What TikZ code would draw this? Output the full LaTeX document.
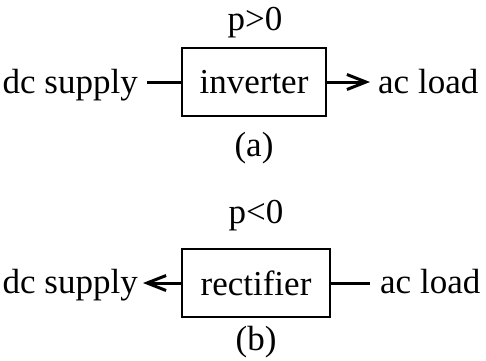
\documentclass[tikz,border=0pt]{standalone}
\usepackage{fontspec}
\setmainfont{Liberation Serif}
\usetikzlibrary{arrows.meta}
\begin{document}
\begin{tikzpicture}[x=1pt,y=-1pt,
  lbl/.style={inner sep=0pt,font=\fontsize{35}{42}\selectfont},
  blk/.style={draw,line width=2pt,minimum width=144pt,minimum height=68pt,inner sep=0pt,font=\fontsize{35}{42}\selectfont},
  conn/.style={line width=3pt},
  tip/.style={-{Straight Barb[length=19pt,width=15pt,line width=3pt]}}]
\useasboundingbox (0,0) rectangle (486,360);
% (a)
\node[blk] (boxA) at (254,82) {inverter};
\node[lbl,anchor=base] (pA) at (255,30) {p>0};
\node[lbl,anchor=base] (capA) at (254,156) {(a)};
\node[lbl,anchor=base east] (dcA) at (138,93) {dc supply};
\node[lbl,anchor=base west] (acA) at (378,93) {ac load};
\draw[conn] ([xshift=9pt]dcA.east |- boxA.west) -- (boxA.west);
\draw[conn,tip] (boxA.east) -- ([xshift=-8pt]acA.west |- boxA.east);
% (b)
\node[blk,minimum width=148pt] (boxB) at (256,283) {rectifier};
\node[lbl,anchor=base] (pB) at (256,223) {p<0};
\node[lbl,anchor=base] (capB) at (256,350) {(b)};
\node[lbl,anchor=base east] (dcB) at (138,293) {dc supply};
\node[lbl,anchor=base west] (acB) at (380,293) {ac load};
\draw[conn,tip] (boxB.west) -- ([xshift=5pt]dcB.east |- boxB.west);
\draw[conn] (boxB.east) -- ([xshift=-10pt]acB.west |- boxB.east);
\end{tikzpicture}
\end{document}
